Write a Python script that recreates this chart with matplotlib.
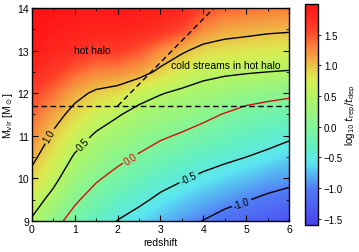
import numpy as np
import matplotlib
matplotlib.use("Agg")
import matplotlib.pyplot as plt
from matplotlib.colors import LinearSegmentedColormap

plt.rcParams['font.family'] = ['Liberation Sans', 'DejaVu Sans']
plt.rcParams['mathtext.fontset'] = 'dejavusans'

# ---- data ----
redshift = [0.0, 0.5, 1.0, 1.5, 2.0, 2.5, 3.0, 3.5, 4.0, 4.5, 5.0, 5.5, 6.0]
log_mvir = [9.0, 9.5, 10.0, 10.5, 11.0, 11.5, 12.0, 12.5, 13.0, 13.5, 14.0]
# log10 t_rep/t_dep ; one row per redshift, values along log_mvir
log_ratio = [
    [0.46, 0.67, 0.89, 1.08, 1.25, 1.40, 1.58, 1.78, 1.92, 1.98, 1.99],
    [0.11, 0.38, 0.60, 0.77, 0.95, 1.13, 1.36, 1.62, 1.82, 1.93, 1.98],
    [-0.13, 0.05, 0.25, 0.46, 0.67, 0.89, 1.10, 1.42, 1.72, 1.88, 1.96],
    [-0.33, -0.15, 0.04, 0.25, 0.45, 0.69, 0.94, 1.28, 1.62, 1.84, 1.95],
    [-0.51, -0.31, -0.11, 0.09, 0.31, 0.53, 0.86, 1.25, 1.62, 1.85, 1.96],
    [-0.64, -0.43, -0.24, -0.04, 0.17, 0.38, 0.64, 1.15, 1.48, 1.78, 1.94],
    [-0.76, -0.57, -0.37, -0.17, 0.05, 0.28, 0.52, 0.92, 1.25, 1.70, 1.90],
    [-0.89, -0.68, -0.47, -0.26, -0.04, 0.19, 0.43, 0.73, 1.05, 1.55, 1.80],
    [-1.01, -0.79, -0.57, -0.35, -0.14, 0.09, 0.35, 0.61, 0.89, 1.25, 1.55],
    [-1.14, -0.89, -0.65, -0.43, -0.22, -0.02, 0.27, 0.56, 0.85, 1.13, 1.42],
    [-1.25, -0.98, -0.74, -0.50, -0.30, -0.13, 0.18, 0.53, 0.81, 1.10, 1.37],
    [-1.35, -1.07, -0.83, -0.58, -0.36, -0.17, 0.11, 0.50, 0.78, 1.06, 1.33],
    [-1.45, -1.15, -0.89, -0.67, -0.445, -0.22, 0.07, 0.48, 0.76, 1.04, 1.30],
]
contour_levels = [-1.0, -0.5, 0.0, 0.5, 1.0]
label_points = [(4.9, 9.4), (3.65, 10.03), (2.3, 10.46), (1.2, 10.8), (0.4, 11.0)]
mass_threshold = 11.7
stream_line_z = [2.0, 4.25]
stream_line_m = [11.7, 14.0]
cbar_ticks = [-1.5, -1.0, -0.5, 0.0, 0.5, 1.0, 1.5]
vmin, vmax = -1.6, 2.0

Z = np.array(log_ratio).T
zz, mm = np.meshgrid(redshift, log_mvir)

# colormap anchors (value, colour) matched to the reference colour bar
cmap_anchor_vals = [-1.6, -1.0, -0.6, -0.3, 0.0, 0.5, 0.8, 1.0, 1.3, 1.6, 2.0]
cmap_anchor_cols = ['#4b41f0', '#507df5', '#5ae6f0', '#64f0be', '#82f596',
                    '#b4f564', '#dceb50', '#ebc346', '#fa823c', '#ff3c28', '#ff1414']
pos = [(v - vmin) / (vmax - vmin) for v in cmap_anchor_vals]
cmap = LinearSegmentedColormap.from_list('ref', list(zip(pos, cmap_anchor_cols)))

fig = plt.figure(figsize=(3.59, 2.53), dpi=100)
ax = fig.add_axes([0.089, 0.1225, 0.716, 0.842])
cax = fig.add_axes([0.850, 0.107, 0.037, 0.873])

fill_levels = np.linspace(vmin, vmax, 90)
cf = ax.contourf(zz, mm, np.clip(Z, vmin, vmax - 1e-6), levels=fill_levels,
                 cmap=cmap, vmin=vmin, vmax=vmax)
line_colors = ['k', 'k', '#d01010', 'k', 'k']
cs = ax.contour(zz, mm, Z, levels=contour_levels, colors=line_colors, linewidths=1.0)
ax.clabel(cs, fmt='%.1f', fontsize=7, inline=True, inline_spacing=2,
          manual=label_points)

ax.axhline(mass_threshold, color='k', ls='--', lw=1.0, dashes=(4, 2.5))
ax.plot(stream_line_z, stream_line_m, color='k', ls='--', lw=1.0, dashes=(4, 2.5))

ax.text(1.4, 13.02, 'hot halo', fontsize=7.5, ha='center', va='center')
ax.text(4.53, 12.66, 'cold streams in hot halo', fontsize=7.5, ha='center', va='center')

ax.set_xlim(0, 6)
ax.set_ylim(9, 14)
ax.set_xticks(range(0, 7))
ax.set_yticks(range(9, 15))
ax.set_xticks(np.arange(0, 6.01, 0.5), minor=True)
ax.set_yticks(np.arange(9, 14.01, 0.5), minor=True)
ax.tick_params(which='both', direction='in', top=True, right=True, labelsize=7.5, pad=2)
ax.tick_params(which='major', length=4, width=0.8)
ax.tick_params(which='minor', length=2, width=0.6)
for s in ax.spines.values():
    s.set_linewidth(1.0)
ax.set_xlabel('redshift', fontsize=7.5, labelpad=2)
ax.set_ylabel(r'M$_{\rm vir}$ [M$_\odot$]', fontsize=7.5, labelpad=2)

cb = fig.colorbar(cf, cax=cax, ticks=cbar_ticks)
cb.ax.tick_params(labelsize=7, direction='out', length=2.5, width=0.6, pad=1.5)
cb.ax.set_yticklabels(['\u22121.5', '\u22121.0', '\u22120.5', '0.0', '0.5', '1.0', '1.5'])
cb.set_label(r'log$_{10}$ $t_{\rm rep}/t_{\rm dep}$', fontsize=7, labelpad=0)
cb.outline.set_linewidth(1.0)

fig.savefig('out.png', dpi=100)
